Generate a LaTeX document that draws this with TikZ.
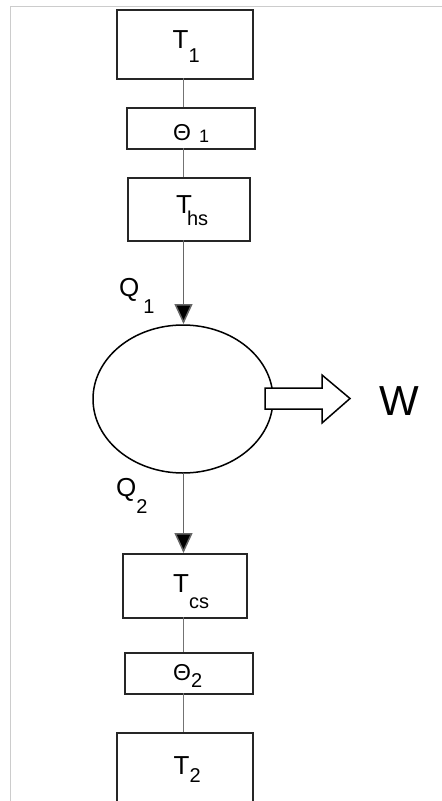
\documentclass[tikz,border=0pt]{standalone}
\usepackage{fontspec}
\setmainfont{Liberation Sans}
\usetikzlibrary{arrows.meta,shapes.geometric}
\newcommand{\sbsc}[2]{\raisebox{-#1pt}{\fontsize{20}{20}\selectfont #2}}
\newcommand{\sbsd}[2]{\raisebox{-#1pt}{\fontsize{18}{18}\selectfont #2}}
\begin{document}
\begin{tikzpicture}[x=1pt,y=-1pt,
  boxst/.style={draw=black!85,line width=2.2pt,fill=white,inner sep=0pt,anchor=north west},
  linkst/.style={draw=black!55,line width=1.5pt},
  flowst/.style={draw=black!60,line width=1.5pt,-{Triangle[width=18pt,length=20pt,fill=black]}},
  lbl/.style={font=\fontsize{26}{26}\selectfont,inner sep=0pt,anchor=base west},
  thl/.style={font=\fontsize{23}{23}\selectfont,inner sep=0pt,anchor=base west},
  framest/.style={draw=black!20,line width=1.5pt}]
\useasboundingbox (0,0) rectangle (442,801);
% frame
\coordinate (fa) at (10.5,801);
\coordinate (fb) at (10.5,6.5);
\coordinate (fc) at (442,6.5);
\draw[framest] (fa) -- (fb) -- (fc);
% boxes
\node[boxst,minimum width=136pt,minimum height=69pt] (t1) at (116,9) {};
\node[boxst,minimum width=128pt,minimum height=41pt] (th1) at (126,107) {};
\node[boxst,minimum width=122pt,minimum height=63pt] (ths) at (127,177) {};
\node[boxst,minimum width=124pt,minimum height=64pt] (tcs) at (122,553) {};
\node[boxst,minimum width=128pt,minimum height=41pt] (th2) at (124,652) {};
\node[boxst,minimum width=136pt,minimum height=69pt] (t2) at (116,732) {};
% ellipse
\node[draw=black,line width=1.5pt,ellipse,minimum width=180pt,minimum height=148pt,inner sep=0pt] (eng) at (183,399) {};
% connectors
\coordinate (c1) at (183.5,78);
\coordinate (c2) at (183.5,107);
\coordinate (c3) at (183.5,148);
\coordinate (c4) at (183.5,177);
\coordinate (c5) at (183.5,240);
\coordinate (c6) at (183.5,324);
\coordinate (c7) at (183.5,473);
\coordinate (c8) at (183.5,553);
\coordinate (c9) at (183.5,617);
\coordinate (c10) at (183.5,652);
\coordinate (c11) at (183.5,693);
\coordinate (c12) at (183.5,732);
\draw[linkst] (c1) -- (c2);
\draw[linkst] (c3) -- (c4);
\draw[flowst] (c5) -- (c6);
\draw[flowst] (c7) -- (c8);
\draw[linkst] (c9) -- (c10);
\draw[linkst] (c11) -- (c12);
% W arrow
\draw[line width=1.5pt,fill=white] (265,388) -- (322,388) -- (322,375) -- (350,398.5) -- (322,423) -- (322,409) -- (265,409) -- cycle;
% labels
\node[lbl] (lt1) at (172.5,48) {T\sbsc{14}{1}};
\node[thl] (lth1) at (173,140) {Θ\kern8pt\sbsd{2}{1}};
\node[lbl] (lths) at (176,213) {T\kern-5pt\sbsc{12}{hs}};
\node[lbl] (ltcs) at (173,592) {T\sbsc{16}{cs}};
\node[thl] (lth2) at (173,680) {Θ\sbsc{7}{2}};
\node[lbl] (lt2) at (173.5,774) {T\sbsc{8}{2}};
\node[lbl] (lq1) at (119,296) {Q\kern4pt\sbsc{17}{1}};
\node[lbl] (lq2) at (116,496) {Q\sbsc{17}{2}};
\node[lbl,font=\fontsize{42}{42}\selectfont] (lw) at (379,415) {W};
\end{tikzpicture}
\end{document}
